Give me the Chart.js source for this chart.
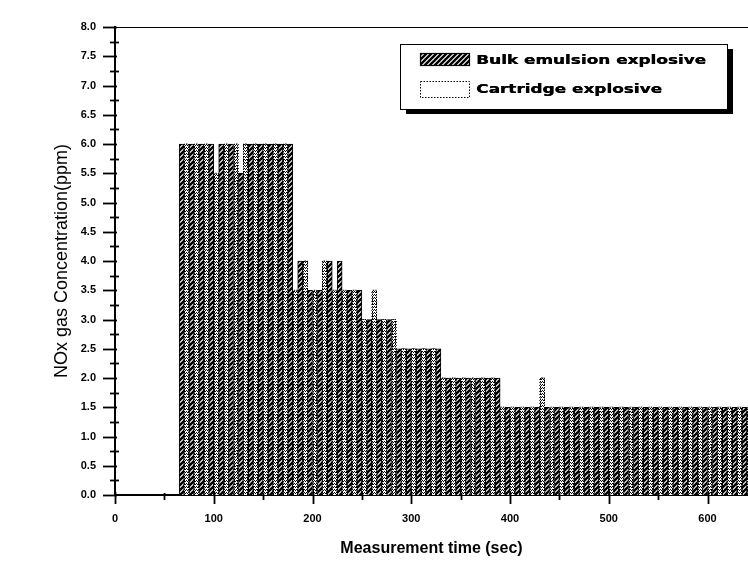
<!DOCTYPE html>
<html><head><meta charset="utf-8">
<script src="https://cdn.jsdelivr.net/npm/chart.js@4.4.1/dist/chart.umd.min.js"></script>
<style>html,body{margin:0;padding:0;background:#fff;}</style>
</head><body>
<canvas id="c" width="748" height="578"></canvas>
<script>
// ---- data ----
const seriesNames = ["Bulk emulsion explosive", "Cartridge explosive"];
const times = [70,80,90,100,110,120,130,140,150,160,170,
  180,190,200,210,220,230,240,250,260,270,280,290,300,310,320,330,
  340,350,360,370,380,
  390,400,410,420,430,
  440,450,460,470,480,490,500,510,520,530,540,550,560,570,580,590,600,610,620,630,640];
const bulk = [6,6,6,6,6,6,5.5,6,6,6,6,
  6,4,3.5,3.5,4,4,3.5,3.5,3,3,3,2.5,2.5,2.5,2.5,2.5,
  2,2,2,2,2,
  2,1.5,1.5,1.5,1.5,
  1.5,1.5,1.5,1.5,1.5,1.5,1.5,1.5,1.5,1.5,1.5,1.5,1.5,1.5,1.5,1.5,1.5,1.5,1.5,1.5,1.5];
const cartridge = [6,6,6,5.5,6,6,6,6,6,6,6,
  3.5,4,3.5,4,3.5,3.5,3.5,3,3.5,3,3,2.5,2.5,2.5,2.5,2,
  2,2,2,2,2,
  1.5,1.5,1.5,1.5,2,
  1.5,1.5,1.5,1.5,1.5,1.5,1.5,1.5,1.5,1.5,1.5,1.5,1.5,1.5,1.5,1.5,1.5,1.5,1.5,1.5,1.5];
const xTickLabels = ["0","100","200","300","400","500","600"];
const yTickLabels = ["0.0","0.5","1.0","1.5","2.0","2.5","3.0","3.5","4.0","4.5","5.0","5.5","6.0","6.5","7.0","7.5","8.0"];

// ---- patterns ----
function makeHatch(){
  const p = document.createElement('canvas'); p.width = 5; p.height = 5;
  const g = p.getContext('2d');
  g.fillStyle = '#fff'; g.fillRect(0,0,5,5);
  g.strokeStyle = '#000'; g.lineWidth = 2.4;
  g.beginPath();
  g.moveTo(-1,6); g.lineTo(6,-1);
  g.moveTo(-4,4); g.lineTo(4,-4);
  g.moveTo(1,9); g.lineTo(9,1);
  g.stroke();
  return g.createPattern(p,'repeat');
}
function makeDots(){
  const p = document.createElement('canvas'); p.width = 2; p.height = 3;
  const g = p.getContext('2d');
  g.fillStyle = '#fff'; g.fillRect(0,0,2,3);
  g.fillStyle = '#000'; g.fillRect(0,0,1,1); g.fillRect(1,1,1,1);
  return g.createPattern(p,'repeat');
}
const hatch = makeHatch();
const dots = makeDots();

const FONT = '"Liberation Sans", Arial, sans-serif';

// ---- custom drawing plugin: axis ticks, top frame, dotted outlines, legend ----
const decor = {
  id: 'decor',
  afterDatasetsDraw(chart){
    const ctx = chart.ctx, a = chart.chartArea;
    const meta = chart.getDatasetMeta(1);
    ctx.save();
    ctx.beginPath(); ctx.rect(a.left, a.top, a.right - a.left, a.bottom - a.top); ctx.clip();
    ctx.strokeStyle = '#000'; ctx.lineWidth = 1; ctx.setLineDash([1.5,1]);
    meta.data.forEach(el => {
      const p = el.getProps(['x','y','base','width'], true);
      const l = Math.round(p.x - p.width/2) + 0.5;
      const r = Math.round(p.x + p.width/2) - 0.5;
      ctx.beginPath();
      ctx.moveTo(l, p.base); ctx.lineTo(l, p.y); ctx.lineTo(r, p.y); ctx.lineTo(r, p.base);
      ctx.stroke();
    });
    ctx.restore();
  },
  afterDraw(chart){
    const ctx = chart.ctx, a = chart.chartArea;
    const xs = chart.scales.x, ys = chart.scales.y;
    ctx.save();
    ctx.strokeStyle = '#000';
    // top frame
    ctx.lineWidth = 1.2;
    ctx.beginPath(); ctx.moveTo(a.left, a.top + 0.5); ctx.lineTo(a.right, a.top + 0.5); ctx.stroke();
    // y ticks
    ctx.lineWidth = 1.8;
    ys.ticks.forEach(t => {
      const py = Math.round(ys.getPixelForValue(t.value)) + 0.5;
      const major = Math.abs(t.value*2 - Math.round(t.value*2)) < 1e-6;
      ctx.beginPath();
      if (major) { ctx.moveTo(a.left - 12, py); ctx.lineTo(a.left + 2, py); }
      else { ctx.moveTo(a.left - 5, py); ctx.lineTo(a.left + 4, py); }
      ctx.stroke();
    });
    // x ticks
    xs.ticks.forEach(t => {
      const px = Math.round(xs.getPixelForValue(t.value)) + 0.5;
      const major = Math.abs(t.value/100 - Math.round(t.value/100)) < 1e-6;
      ctx.beginPath();
      if (major) { ctx.moveTo(px, a.bottom - 3); ctx.lineTo(px, a.bottom + 9); }
      else { ctx.moveTo(px, a.bottom - 2); ctx.lineTo(px, a.bottom + 5); }
      ctx.stroke();
    });
    // legend
    const bx = 400, by = 44, bw = 327, bh = 65;
    ctx.fillStyle = '#000';
    ctx.fillRect(bx + 6, by + 5, bw, bh);
    ctx.fillStyle = '#fff';
    ctx.fillRect(bx, by, bw, bh);
    ctx.lineWidth = 1;
    ctx.strokeRect(bx + 0.5, by + 0.5, bw, bh);
    // swatch 1
    ctx.fillStyle = hatch;
    ctx.fillRect(420, 53, 49, 12);
    ctx.lineWidth = 1.2;
    ctx.strokeRect(420.5, 53.5, 49, 12);
    // swatch 2
    ctx.fillStyle = '#fff';
    ctx.fillRect(420, 81, 49, 16);
    ctx.setLineDash([1.5,1.5]); ctx.lineWidth = 1;
    ctx.strokeRect(420.5, 81.5, 49, 16);
    ctx.setLineDash([]);
    // texts
    ctx.fillStyle = '#000';
    ctx.font = 'bold 13px "DejaVu Sans", sans-serif';
    ctx.textBaseline = 'middle'; ctx.textAlign = 'left';
    const sx = 230 / ctx.measureText(seriesNames[0]).width;
    [[seriesNames[0], 61],[seriesNames[1], 90]].forEach(([txt, yy]) => {
      ctx.save(); ctx.translate(476, yy); ctx.scale(sx, 1);
      ctx.fillText(txt, 0, 0);
      ctx.fillText(txt, 0.4, 0);
      ctx.restore();
    });
    ctx.restore();
  }
};

new Chart(document.getElementById('c'), {
  type: 'bar',
  data: {
    datasets: [
      { label: seriesNames[0], data: times.map((t,i) => ({x: t, y: bulk[i]})),
        backgroundColor: hatch, borderColor: '#000', borderWidth: 1,
        categoryPercentage: 1, barPercentage: 1 },
      { label: seriesNames[1], data: times.map((t,i) => ({x: t, y: cartridge[i]})),
        backgroundColor: dots, borderWidth: 0,
        categoryPercentage: 1, barPercentage: 1 }
    ]
  },
  options: {
    responsive: false, animation: false, devicePixelRatio: 1,
    layout: { padding: { top: 27, right: 0, left: 0, bottom: 0 } },
    plugins: { legend: { display: false }, tooltip: { enabled: false } },
    scales: {
      x: {
        type: 'linear', min: 0, max: 641, offset: false,
        grid: { display: false, drawTicks: false },
        border: { display: true, color: '#000', width: 2 },
        ticks: { stepSize: 50, includeBounds: false, autoSkip: false, maxRotation: 0, padding: 17, color: '#000',
          font: { family: FONT, size: 11, weight: 'bold' },
          callback: (v) => { const i = xTickLabels.indexOf(String(v)); return i >= 0 ? xTickLabels[i] : ''; } },
        title: { display: true, text: 'Measurement time (sec)', color: '#000',
          font: { family: FONT, size: 16, weight: 'bold' }, padding: { top: 0, bottom: 20 } },
        afterFit: (s) => { s.height = 83; }
      },
      y: {
        min: 0, max: 8,
        grid: { display: false, drawTicks: false },
        border: { display: true, color: '#000', width: 2 },
        ticks: { stepSize: 0.25, autoSkip: false, padding: 19, color: '#000',
          font: { family: FONT, size: 11, weight: 'bold' },
          callback: (v) => { const s = Number(v).toFixed(1); return (Math.abs(v*2 - Math.round(v*2)) < 1e-6 && yTickLabels.includes(s)) ? s : ''; } },
        title: { display: true, text: 'NOx gas Concentration(ppm)', color: '#000',
          font: { family: FONT, size: 18, weight: 'normal' }, padding: { top: 51, bottom: 0 } },
        afterFit: (s) => { s.width = 115; }
      }
    }
  },
  plugins: [decor]
});
</script>
</body></html>
